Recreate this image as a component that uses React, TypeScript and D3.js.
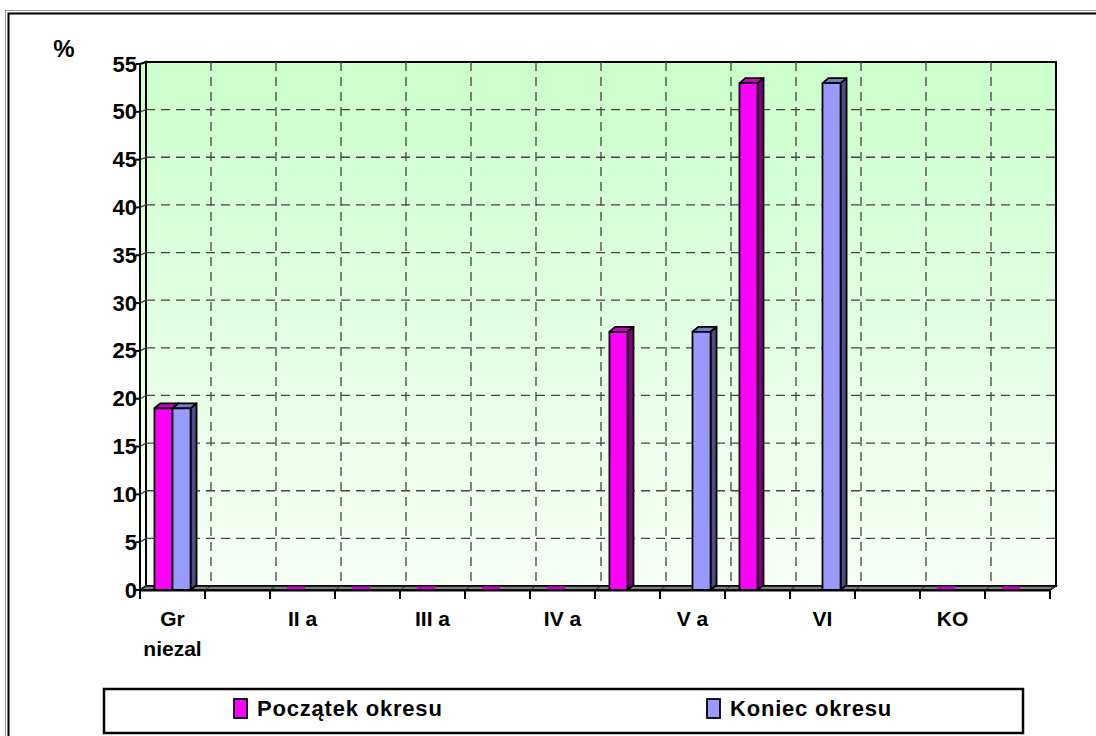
import React from "react";
import * as d3 from "d3";

// ---- data ----
const categories: string[] = ["Gr niezal", "", "II a", "", "III a", "", "IV a", "", "V a", "", "VI", "", "KO", ""];
const seriesNames: string[] = ["Początek okresu", "Koniec okresu"];
const poczatek: (number | null)[] = [19, null, 0, 0, 0, 0, 0, 27, null, 53, null, null, 0, 0];
const koniec: (number | null)[] = [19, null, null, null, null, null, null, null, 27, null, 53, null, null, null];
const yTicks: number[] = [0, 5, 10, 15, 20, 25, 30, 35, 40, 45, 50, 55];
const yUnit = "%";

const W = 1096;
const H = 736;
const FONT = "Arial, 'Liberation Sans', sans-serif";

const colors = [
  { front: "#ff00ff", top: "#cc00cc", side: "#800080" },
  { front: "#9999ff", top: "#7a7acc", side: "#4d4d80" },
];

export default function App() {
  const idx = categories.map((_, i) => i);
  const x0 = d3.scaleBand<number>().domain(idx).range([140, 1050]).paddingInner(0).paddingOuter(0);
  const x1 = d3.scaleBand<number>().domain([0, 1]).range([0, x0.bandwidth()]).paddingInner(0).paddingOuter(0.8);
  const yF = d3.scaleLinear().domain([0, 55]).range([590, 64]);
  const yB = d3.scaleLinear().domain([0, 55]).range([586, 62]);
  const wallDx = 6;
  const barDx = 6;
  const barDy = -5;

  const xFront = (i: number) => 140 + i * x0.step();
  const xBack = (i: number) => xFront(i) + wallDx;

  const series = [poczatek, koniec];
  const bars: { i: number; s: number; v: number }[] = [];
  idx.forEach((i) => {
    series.forEach((arr, s) => {
      const v = arr[i];
      if (v !== null && v !== undefined) bars.push({ i, s, v });
    });
  });

  const catBounds = d3.range(0, categories.length + 1);

  return (
    <svg width={W} height={H} style={{ position: "absolute", left: 0, top: 0, background: "#fff" }} fontFamily={FONT}>
      <defs>
        <linearGradient id="wallGrad" x1="0" y1="0" x2="0" y2="1">
          <stop offset="0" stopColor="#ccffcc" />
          <stop offset="1" stopColor="#f6fff6" />
        </linearGradient>
      </defs>
      {/* outer frame */}
      <rect x={5.5} y={10.5} width={W + 20} height={H + 20} fill="none" stroke="#9a9a9a" strokeWidth={1} />
      <rect x={8.5} y={13.5} width={W + 20} height={H + 20} fill="none" stroke="#000" strokeWidth={2} />

      {/* back wall */}
      <rect x={xBack(0)} y={yB(55)} width={xBack(categories.length) - xBack(0)} height={yB(0) - yB(55)} fill="url(#wallGrad)" stroke="#000" strokeWidth={2} />
      {/* left side wall */}
      <polygon
        points={`${xFront(0)},${yF(0)} ${xFront(0)},${yF(55)} ${xBack(0)},${yB(55)} ${xBack(0)},${yB(0)}`}
        fill="url(#wallGrad)"
        stroke="#000"
        strokeWidth={2}
      />

      {/* gridlines */}
      {yTicks.filter((t) => t > 0 && t < 55).map((t) => (
        <g key={"hg" + t}>
          <line x1={xBack(0)} x2={xBack(categories.length)} y1={yB(t)} y2={yB(t)} stroke="#444" strokeWidth={1.3} strokeDasharray="9,6" />
          <line x1={xFront(0)} x2={xBack(0)} y1={yF(t)} y2={yB(t)} stroke="#444" strokeWidth={1.3} />
        </g>
      ))}
      {catBounds.filter((b) => b > 0 && b < categories.length).map((b) => (
        <line key={"vg" + b} x1={xBack(b)} x2={xBack(b)} y1={yB(55)} y2={yB(0)} stroke="#444" strokeWidth={1.3} strokeDasharray="9,6" />
      ))}

      {/* floor */}
      <polygon
        points={`${xFront(0)},${yF(0)} ${xFront(categories.length)},${yF(0)} ${xBack(categories.length)},${yB(0)} ${xBack(0)},${yB(0)}`}
        fill="#808080"
        stroke="#000"
        strokeWidth={1.5}
      />
      {catBounds.map((b) => (
        <line key={"fl" + b} x1={xFront(b)} x2={xBack(b)} y1={yF(0)} y2={yB(0)} stroke="#333" strokeWidth={1} />
      ))}

      {/* bars */}
      {bars.map(({ i, s, v }) => {
        const xl = (x0(i) as number) + (x1(s) as number);
        const bw = x1.bandwidth();
        const xr = xl + bw;
        const yt = yF(v);
        const yb = yF(0);
        const c = colors[s];
        if (v === 0) {
          return (
            <polygon
              key={`b${i}-${s}`}
              points={`${xl + 1},${yb - 0.5} ${xr + 1},${yb - 0.5} ${xr + 4},${yb - 3.5} ${xl + 4},${yb - 3.5}`}
              fill={c.top}
              stroke="none"
            />
          );
        }
        return (
          <g key={`b${i}-${s}`} stroke="#000" strokeWidth={1.8} strokeLinejoin="round">
            <polygon points={`${xr},${yb} ${xr},${yt} ${xr + barDx},${yt + barDy} ${xr + barDx},${yb + barDy}`} fill={c.side} />
            <polygon points={`${xl},${yt} ${xr},${yt} ${xr + barDx},${yt + barDy} ${xl + barDx},${yt + barDy}`} fill={c.top} />
            <rect x={xl} y={yt} width={bw} height={yb - yt} fill={c.front} />
          </g>
        );
      })}

      {/* y axis front line and ticks */}
      <line x1={xFront(0)} x2={xFront(0)} y1={yF(0)} y2={yF(55)} stroke="#000" strokeWidth={2} />
      {yTicks.map((t) => (
        <g key={"yt" + t}>
          <line x1={xFront(0) - 4} x2={xFront(0)} y1={yF(t)} y2={yF(t)} stroke="#000" strokeWidth={2} />
          <text x={xFront(0) - 3} y={yF(t)} textAnchor="end" dominantBaseline="central" fontSize={22} fontWeight="bold" fill="#000">
            {t}
          </text>
        </g>
      ))}
      <text x={64} y={57} textAnchor="middle" fontSize={24} fontWeight="bold" fill="#000">
        {yUnit}
      </text>

      {/* x axis front line and ticks */}
      <line x1={xFront(0)} x2={xFront(categories.length)} y1={yF(0) + 0.5} y2={yF(0) + 0.5} stroke="#000" strokeWidth={2} />
      {catBounds.map((b) => (
        <line key={"xt" + b} x1={xFront(b)} x2={xFront(b)} y1={yF(0)} y2={yF(0) + 9} stroke="#000" strokeWidth={2} />
      ))}
      {categories.map((c, i) =>
        c ? (
          <text key={"xl" + i} x={(x0(i) as number) + x0.bandwidth() / 2} y={626} textAnchor="middle" fontSize={21} fontWeight="bold" fill="#000">
            {c === "Gr niezal"
              ? c.split(" ").map((w, k) => (
                  <tspan key={k} x={(x0(i) as number) + x0.bandwidth() / 2} dy={k === 0 ? 0 : 30}>
                    {w}
                  </tspan>
                ))
              : c}
          </text>
        ) : null
      )}

      {/* legend */}
      <rect x={104} y={689} width={919} height={44} fill="#fff" stroke="#000" strokeWidth={2.5} />
      {seriesNames.map((n, k) => {
        const lx = k === 0 ? 234 : 707;
        return (
          <g key={"lg" + k}>
            <rect x={lx} y={699} width={13} height={19} fill={colors[k].front} stroke="#000" strokeWidth={1.8} />
            <text x={lx + 23} y={716} fontSize={22} fontWeight="bold" fill="#000" letterSpacing={0.8}>
              {n}
            </text>
          </g>
        );
      })}
    </svg>
  );
}
